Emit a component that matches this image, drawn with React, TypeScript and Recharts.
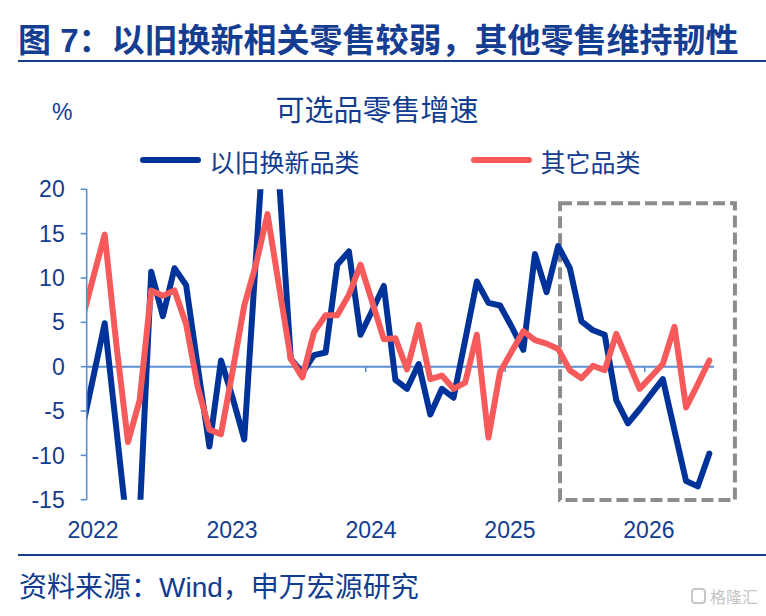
import React from 'react';
import { LineChart, Line, XAxis, YAxis, ReferenceLine, ReferenceArea } from 'recharts';

// month index: 0 = Dec 2021 ... 54 = Jun 2026
const monthIndex = [
  0, 1, 2, 3, 4, 5, 6, 7, 8, 9, 10, 11, 12, 13, 14, 15, 16, 17, 18, 19, 20,
  21, 22, 23, 24, 25, 26, 27, 28, 29, 30, 31, 32, 33, 34, 35, 36, 37, 38, 39,
  40, 41, 42, 43, 44, 45, 46, 47, 48, 49, 50, 51, 52, 53, 54,
];

// 以旧换新品类
const tradeInSeries = [
  -7.4, -1.3, 4.9, -7.0, -19.0, -17.0, 10.7, 5.7, 11.1, 9.2, 0.0, -9.0, 0.7,
  -3.5, -8.2, 12.2, 32.0, 21.0, 0.9, -0.7, 1.3, 1.6, 11.5, 13.0, 3.6, 6.3, 9.1,
  -1.5, -2.5, 0.3, -5.4, -2.5, -3.5, 3.0, 9.6, 7.2, 6.9, 4.5, 1.9, 12.7, 8.4,
  13.6, 11.1, 5.1, 4.1, 3.6, -3.8, -6.4, -4.8, -3.1, -1.4, -7.2, -12.9, -13.5,
  -9.8,
];

// 其它品类
const otherSeries = [
  5.0, 10.0, 14.9, 2.5, -8.5, -3.8, 8.6, 8.0, 8.6, 4.8, -2.3, -7.1, -7.6, -0.5,
  6.9, 11.5, 17.2, 9.0, 0.9, -1.2, 3.9, 5.8, 5.8, 8.1, 11.5, 7.3, 3.1, 3.2,
  -0.3, 4.7, -1.4, -1.0, -2.5, -1.8, 3.6, -8.0, -0.6, 1.7, 4.0, 3.0, 2.6, 2.0,
  -0.4, -1.3, 0.1, -0.4, 3.7, 0.6, -2.5, -1.1, 0.3, 4.5, -4.6, -2.0, 0.7,
];

const yearLabels = ['2022', '2023', '2024', '2025', '2026'];
const yearLabelTicks = [0.99, 12.95, 24.9, 36.85, 48.8];
const yearBoundaryTicks = [12.45, 24.45, 36.45, 48.45];
const yTicks = [-15, -10, -5, 0, 5, 10, 15, 20];
const xDomain = [0.45, 54.4];
const yDomain = [-15, 20];
const highlightBox = { x1: 41.16, x2: 56.2, y1: -15.03, y2: 18.42 };

const seriesNames = { a: '以旧换新品类', b: '其它品类' };

const data = monthIndex.map((i, k) => ({ i, a: tradeInSeries[k], b: otherSeries[k] }));

const BLUE = '#003399';
const RED = '#F75A5A';
const AXIS = '#5A8FD0';
const TEXT = '#123C8F';
const CJK = '"Noto Sans CJK SC", sans-serif';
const LATIN = '"Liberation Sans", Arial, "Noto Sans CJK SC", sans-serif';

function LegendItem({ color, label, left, textLeft }: { color: string; label: string; left: number; textLeft: number }) {
  return (
    <>
      <div
        style={{
          position: 'absolute',
          left,
          top: 157.25,
          width: 61,
          height: 5.5,
          borderRadius: 3,
          background: color,
        }}
      />
      <div
        style={{
          position: 'absolute',
          left: textLeft,
          top: 148.5,
          fontFamily: CJK,
          fontSize: 25,
          lineHeight: '25px',
          color: TEXT,
          whiteSpace: 'nowrap',
        }}
      >
        {label}
      </div>
    </>
  );
}

export default function App() {
  return (
    <div
      style={{
        position: 'absolute',
        left: 0,
        top: 0,
        width: 766,
        height: 616,
        background: '#fff',
        overflow: 'hidden',
      }}
    >
      {/* Title */}
      <div
        style={{
          position: 'absolute',
          left: 18,
          top: 24,
          fontFamily: LATIN,
          fontWeight: 700,
          fontSize: 33,
          lineHeight: '33px',
          color: '#153E92',
          whiteSpace: 'nowrap',
        }}
      >
        图 7：以旧换新相关零售较弱，其他零售维持韧性
      </div>
      <div style={{ position: 'absolute', left: 18, top: 60, width: 748, height: 2.2, background: '#17408F' }} />

      {/* unit */}
      <div
        style={{
          position: 'absolute',
          left: 52,
          top: 100,
          fontFamily: LATIN,
          fontSize: 23,
          lineHeight: '25px',
          color: TEXT,
        }}
      >
        %
      </div>

      {/* chart title */}
      <div
        style={{
          position: 'absolute',
          left: 0,
          width: 754,
          top: 93.5,
          textAlign: 'center',
          fontFamily: CJK,
          fontSize: 29,
          lineHeight: '29px',
          color: TEXT,
          whiteSpace: 'nowrap',
        }}
      >
        可选品零售增速
      </div>

      <LegendItem color={BLUE} label={seriesNames.a} left={140} textLeft={209.5} />
      <LegendItem color={RED} label={seriesNames.b} left={470.5} textLeft={540.5} />

      <div style={{ position: 'absolute', left: 0, top: 0 }}>
        <LineChart
          width={766}
          height={616}
          data={data}
          margin={{ top: 189.3, right: 52, bottom: 76.3, left: 26.7 }}
        >
          <XAxis
            type="number"
            dataKey="i"
            domain={xDomain}
            allowDataOverflow
            ticks={yearLabelTicks}
            interval={0}
            tickFormatter={(v: number) => yearLabels[yearLabelTicks.indexOf(v)] ?? ''}
            axisLine={false}
            tickLine={false}
            tickSize={6}
            tickMargin={16}
            height={40}
            tick={{ fill: TEXT, fontSize: 23, fontFamily: LATIN }}
          />
          <YAxis
            type="number"
            domain={yDomain}
            allowDataOverflow
            ticks={yTicks}
            interval={0}
            width={60}
            axisLine={{ stroke: AXIS, strokeWidth: 1.6 }}
            tickLine={{ stroke: AXIS, strokeWidth: 1.6 }}
            tickSize={6}
            tickMargin={16}
            tick={{ fill: TEXT, fontSize: 23, fontFamily: LATIN }}
          />
          <ReferenceLine y={0} stroke={AXIS} strokeWidth={2} />
          {yearBoundaryTicks.map((t) => (
            <ReferenceLine
              key={t}
              segment={[
                { x: t, y: 0 },
                { x: t, y: -0.6 },
              ]}
              stroke={AXIS}
              strokeWidth={1.6}
            />
          ))}
          <Line
            type="linear"
            dataKey="a"
            name={seriesNames.a}
            stroke={BLUE}
            strokeWidth={6}
            strokeLinejoin="round"
            strokeLinecap="round"
            dot={false}
            activeDot={false}
            isAnimationActive={false}
          />
          <Line
            type="linear"
            dataKey="b"
            name={seriesNames.b}
            stroke={RED}
            strokeWidth={6}
            strokeLinejoin="round"
            strokeLinecap="round"
            dot={false}
            activeDot={false}
            isAnimationActive={false}
          />
          <ReferenceArea
            x1={highlightBox.x1}
            x2={highlightBox.x2}
            y1={highlightBox.y1}
            y2={highlightBox.y2}
            ifOverflow="visible"
            fill="none"
            fillOpacity={0}
            stroke="#8C8C8C"
            strokeWidth={4}
            strokeDasharray="12 5"
          />
        </LineChart>
      </div>

      {/* bottom rule and source */}
      <div style={{ position: 'absolute', left: 18, top: 554, width: 748, height: 2.2, background: '#17408F' }} />
      <div
        style={{
          position: 'absolute',
          left: 19,
          top: 573.5,
          fontFamily: LATIN,
          fontSize: 28,
          lineHeight: '28px',
          color: TEXT,
          whiteSpace: 'nowrap',
        }}
      >
        资料来源：Wind，申万宏源研究
      </div>

      {/* watermark */}
      <div
        style={{
          position: 'absolute',
          left: 691,
          top: 588,
          width: 15,
          height: 16,
          border: '2px solid #C8C8C8',
          borderRadius: 4,
          boxSizing: 'border-box',
        }}
      />
      <div
        style={{
          position: 'absolute',
          left: 710,
          top: 586,
          fontFamily: CJK,
          fontSize: 16,
          lineHeight: '20px',
          color: '#C4C4C4',
          whiteSpace: 'nowrap',
        }}
      >
        格隆汇
      </div>
    </div>
  );
}
